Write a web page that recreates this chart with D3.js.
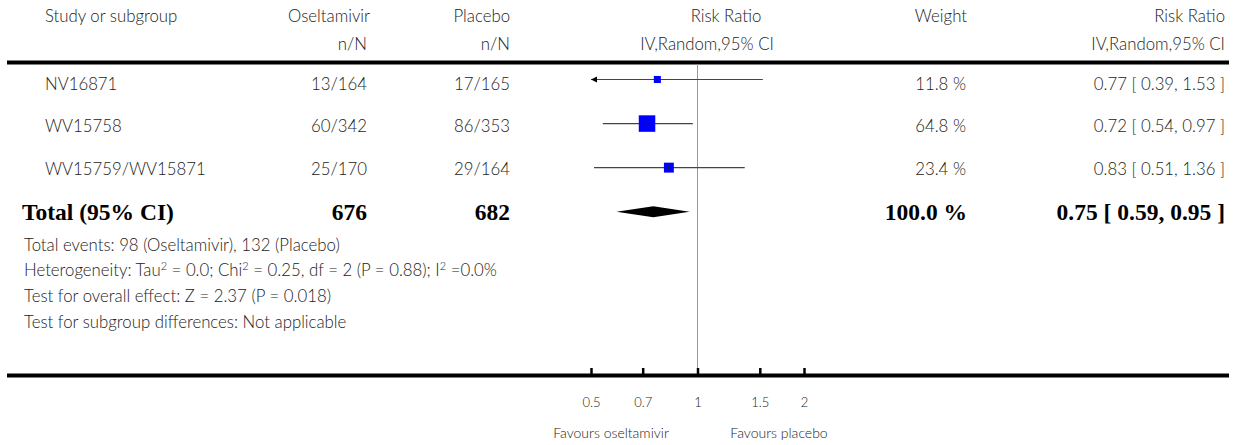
<!DOCTYPE html>
<html><head><meta charset="utf-8">
<script src="https://cdn.jsdelivr.net/npm/d3@7"></script>
<style>
html,body{margin:0;padding:0;background:#fff;}
svg{display:block;}
</style></head>
<body>
<svg id="chart" width="1239" height="445"></svg>
<script>
// ---- data ----
const studies = ["NV16871", "WV15758", "WV15759/WV15871"];
const oselEvents = [13, 60, 25];
const oselTotal = [164, 342, 170];
const placEvents = [17, 86, 29];
const placTotal = [165, 353, 164];
const riskRatio = [0.77, 0.72, 0.83];
const ciLow = [0.39, 0.54, 0.51];
const ciHigh = [1.53, 0.97, 1.36];
const weights = [11.8, 64.8, 23.4];
const totalLabel = "Total (95% CI)";
const totalOsel = 676, totalPlac = 682, totalWeight = 100.0;
const totalRR = 0.75, totalLow = 0.59, totalHigh = 0.95;
const tickValues = [0.5, 0.7, 1, 1.5, 2];
const tickLabels = ["0.5", "0.7", "1", "1.5", "2"];
// footnote lines as [text, isSuperscript] segments
const footnotes = [
  [["Total events: 98 (Oseltamivir), 132 (Placebo)", 0]],
  [["Heterogeneity: Tau", 0], ["2", 1], [" = 0.0; Chi", 0], ["2", 1],
   [" = 0.25, df = 2 (P = 0.88); I", 0], ["2", 1], [" =0.0%", 0]],
  [["Test for overall effect: Z = 2.37 (P = 0.018)", 0]],
  [["Test for subgroup differences: Not applicable", 0]]
];

// ---- layout ----
const svg = d3.select("#chart");
const sans = "Lato, 'Open Sans', sans-serif";
const serif = "'Liberation Serif', 'DejaVu Serif', serif";
const txt = "#222";
const fs = 16.8;
const fw = 300;

const x = d3.scaleLog().domain([0.5, 2]).range([591, 804]);
const y = d3.scaleLinear().domain([0, 3]).range([79.5, 211.7]);
const yText = d3.scaleLinear().domain([0, 2]).range([89.5, 174.5]);
const side = d3.scaleSqrt().domain([0, 100]).range([0, 20.5]);
const fmt2 = d3.format(".2f");

function text(xp, yp, s, anchor, opts = {}) {
  return svg.append("text").attr("x", xp).attr("y", yp)
    .attr("text-anchor", anchor)
    .attr("font-family", opts.family || sans)
    .attr("font-size", opts.size || fs)
    .attr("font-weight", opts.weight || fw)
    .attr("fill", opts.fill || txt)
    .text(s);
}

// header
text(45, 22, "Study or subgroup", "start");
text(370, 22, "Oseltamivir", "end");
text(510, 22, "Placebo", "end");
text(726, 22, "Risk Ratio", "middle");
text(967, 22, "Weight", "end");
text(1225, 22, "Risk Ratio", "end");
text(367, 50, "n/N", "end");
text(510, 50, "n/N", "end");
text(707, 50, "IV,Random,95% CI", "middle");
text(1225, 50, "IV,Random,95% CI", "end");

// rules
svg.append("line").attr("x1", 7).attr("x2", 1229).attr("y1", 62.5).attr("y2", 62.5)
  .attr("stroke", "#000").attr("stroke-width", 4);
svg.append("line").attr("x1", 7).attr("x2", 1229).attr("y1", 375.5).attr("y2", 375.5)
  .attr("stroke", "#000").attr("stroke-width", 4);

// vertical line of no effect
svg.append("line").attr("x1", x(1)).attr("x2", x(1)).attr("y1", 64).attr("y2", 374)
  .attr("stroke", "#999").attr("stroke-width", 1);

// study rows
studies.forEach((s, i) => {
  const yy = y(i);
  const tb = yText(i);
  text(45, tb, s, "start");
  text(367, tb, oselEvents[i] + "/" + oselTotal[i], "end");
  text(510, tb, placEvents[i] + "/" + placTotal[i], "end");
  text(966, tb, weights[i].toFixed(1) + " %", "end");
  text(1225, tb, fmt2(riskRatio[i]) + " [ " + fmt2(ciLow[i]) + ", " + fmt2(ciHigh[i]) + " ]", "end");

  const [d0, d1] = x.domain();
  const lo = Math.max(ciLow[i], d0), hi = Math.min(ciHigh[i], d1);
  svg.append("line").attr("x1", x(lo)).attr("x2", x(hi)).attr("y1", yy).attr("y2", yy)
    .attr("stroke", "#444").attr("stroke-width", 1.2);
  if (ciLow[i] < d0) {
    const ax = x(d0);
    svg.append("path").attr("d", `M${ax},${yy} L${ax + 6},${yy - 3} L${ax + 6},${yy + 3} Z`).attr("fill", "#000");
  }
  if (ciHigh[i] > d1) {
    const ax = x(d1);
    svg.append("path").attr("d", `M${ax},${yy} L${ax - 6},${yy - 3} L${ax - 6},${yy + 3} Z`).attr("fill", "#000");
  }
  const w = side(weights[i]);
  svg.append("rect").attr("x", x(riskRatio[i]) - w / 2).attr("y", yy - w / 2)
    .attr("width", w).attr("height", w).attr("fill", "#0000ff");
  svg.append("line").attr("x1", x(riskRatio[i])).attr("x2", x(riskRatio[i]))
    .attr("y1", yy - 2.5).attr("y2", yy + 2.5).attr("stroke", "#222").attr("stroke-width", 1);
});

// total row
const ty = y(3);
const bold = { family: serif, weight: "bold", size: 23.5, fill: "#000" };
text(22, ty + 8.5, totalLabel, "start", bold);
text(367, ty + 8.5, String(totalOsel), "end", bold);
text(510, ty + 8.5, String(totalPlac), "end", bold);
text(967, ty + 8.5, totalWeight.toFixed(1) + " %", "end", bold);
text(1225, ty + 8.5, fmt2(totalRR) + " [ " + fmt2(totalLow) + ", " + fmt2(totalHigh) + " ]", "end", bold);
svg.append("path")
  .attr("d", `M${x(totalLow)},${ty} L${x(totalRR)},${ty - 5.5} L${x(totalHigh)},${ty} L${x(totalRR)},${ty + 5.5} Z`)
  .attr("fill", "#000");

// footnotes
footnotes.forEach((segs, i) => {
  const t = svg.append("text").attr("x", 24).attr("y", 250.5 + i * 25.8)
    .attr("font-family", sans).attr("font-size", 16.8).attr("font-weight", fw).attr("fill", txt);
  segs.forEach(([s, sup]) => {
    const ts = t.append("tspan").text(s);
    if (sup) ts.attr("font-size", 11).attr("baseline-shift", "55%");
  });
});

// axis
const axis = d3.axisBottom(x).tickValues(tickValues)
  .tickFormat((d, i) => tickLabels[i])
  .tickSizeInner(-6).tickSizeOuter(0).tickPadding(24);
const ag = svg.append("g").attr("transform", "translate(0,374)").call(axis);
ag.select(".domain").remove();
ag.selectAll(".tick line").attr("stroke", "#000").attr("stroke-width", 2.5);
ag.selectAll(".tick text").attr("font-family", sans).attr("font-size", 13)
  .attr("font-weight", fw).attr("fill", txt);

text(611, 438, "Favours oseltamivir", "middle", { size: 14 });
text(779, 438, "Favours placebo", "middle", { size: 14 });
</script>
</body></html>
